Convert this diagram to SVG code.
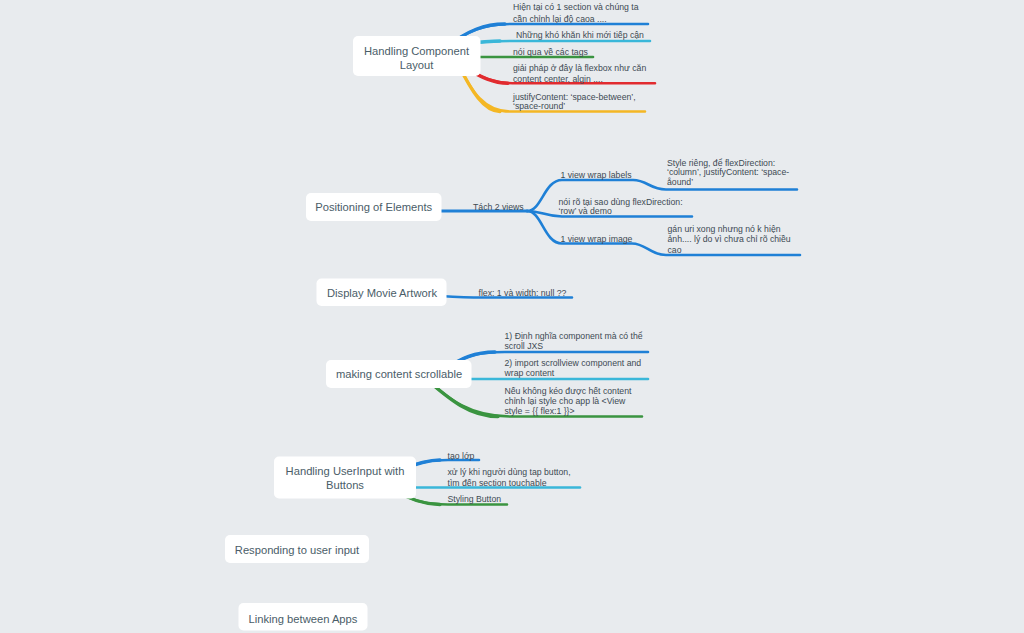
<svg xmlns="http://www.w3.org/2000/svg" width="1024" height="633" viewBox="0 0 1024 633">
<style>
.bg{fill:#e8ebee}
.box{fill:#ffffff}
.t{font-family:"Liberation Sans","Noto Sans",Arial,sans-serif;font-size:11.2px;fill:#4a5d68;text-anchor:middle}
.s{font-family:"Liberation Sans","Noto Sans",Arial,sans-serif;font-size:8.7px;fill:#3d4a53}
.c{fill:none;stroke-width:2.6;stroke-linecap:round;stroke-linejoin:round}
.k{stroke-width:3.3}
.blue{stroke:#1f80d6}
.cyan{stroke:#3ab7d9}
.green{stroke:#3a9440}
.red{stroke:#e12b2f}
.yellow{stroke:#f4b724}
</style>
<rect class="bg" x="0" y="0" width="1024" height="633"/>
<g id="connectors">
  <path class="c blue" d="M445,48 C468,30 485,24 512,24 H648"/>
  <path class="c k blue" d="M445,48 C468,30 485,24 505,24"/>
  <path class="c cyan" d="M460,44 C480,42 492,41 512,41 H650"/>
  <path class="c k cyan" d="M460,44 C480,42 492,41 500,41"/>
  <path class="c green" d="M460,57 H593"/>
  <path class="c red" d="M462,66 C482,78 494,83.3 517,83.3 H655"/>
  <path class="c k red" d="M462,66 C482,78 494,83.3 508,83.3"/>
  <path class="c yellow" d="M458,64 C472,92 484,111.5 510,111.5 H645"/>
  <path class="c k yellow" d="M458,64 C472,92 484,111.5 500,111.5"/>

  <path class="c blue" d="M430,211 H527" style="stroke-width:3.2"/>
  <path class="c blue" d="M527,211 C542,211 544,180 562,180 H633 C647,180 650,189.5 666,189.5 H797"/>
  <path class="c blue" d="M527,211 C542,211 545,216.5 562,216.5 H692"/>
  <path class="c blue" d="M527,211 C542,211 544,243.5 562,243.5 H632 C646,243.5 650,255 666,255 H800"/>

  <path class="c blue" d="M440,296 C458,297 468,297.5 482,297.5 H572"/>

  <path class="c blue" d="M445,370 C462,356 478,352 505,352 H648"/>
  <path class="c k blue" d="M445,370 C462,356 478,352 495,352"/>
  <path class="c cyan" d="M460,379 H648"/>
  <path class="c green" d="M425,378 C450,400 470,416.5 510,416.5 H642"/>
  <path class="c k green" d="M425,378 C450,400 470,416.5 498,416.5"/>

  <path class="c blue" d="M400,470 C420,462 430,460 448,460 H479"/>
  <path class="c k blue" d="M400,470 C420,462 430,460 440,460"/>
  <path class="c cyan" d="M405,487.5 H580"/>
  <path class="c green" d="M395,490 C410,500 425,504.5 448,504.5 H507"/>
  <path class="c k green" d="M395,490 C410,500 425,504.5 440,504.5"/>
</g>

<g id="node-handling-component-layout">
  <rect class="box" x="353" y="36" width="127.5" height="40" rx="5"/>
  <text class="t" x="416.5" y="55">Handling Component</text>
  <text class="t" x="416.5" y="68.5">Layout</text>
</g>
<g id="sub-hien-tai">
  <text class="s" x="513" y="10">Hiện tại có 1 section và chúng ta</text>
  <text class="s" x="513" y="21.5">cần chỉnh lại độ caoa ....</text>
</g>
<g id="sub-nhung-kho-khan">
  <text class="s" x="516" y="37.5">Những khó khăn khi mới tiếp cận</text>
</g>
<g id="sub-noi-qua">
  <text class="s" x="513" y="55">nói qua về các tags</text>
</g>
<g id="sub-giai-phap">
  <text class="s" x="513" y="70.5">giải pháp ở đây là flexbox như căn</text>
  <text class="s" x="513" y="81.5">content center, algin ....</text>
</g>
<g id="sub-justify">
  <text class="s" x="513" y="99.5">justifyContent: ‘space-between’,</text>
  <text class="s" x="513" y="109">‘space-round’</text>
</g>

<g id="node-positioning">
  <rect class="box" x="306" y="193" width="135.5" height="28" rx="5"/>
  <text class="t" x="373.7" y="211">Positioning of Elements</text>
</g>
<g id="sub-tach">
  <text class="s" x="473" y="209.5">Tách 2 views</text>
</g>
<g id="sub-wrap-labels">
  <text class="s" x="560.5" y="177.5">1 view wrap labels</text>
</g>
<g id="sub-style-rieng">
  <text class="s" x="667" y="165.5">Style riêng, để flexDirection:</text>
  <text class="s" x="667" y="175">‘column’, justifyContent: ‘space-</text>
  <text class="s" x="667" y="184.5">åound’</text>
</g>
<g id="sub-noi-ro">
  <text class="s" x="558.5" y="204.5">nói rõ tại sao dùng flexDirection:</text>
  <text class="s" x="558.5" y="213.5">‘row’ và demo</text>
</g>
<g id="sub-wrap-image">
  <text class="s" x="560.5" y="241.5">1 view wrap image</text>
</g>
<g id="sub-gan-uri">
  <text class="s" x="667.5" y="232">gán uri xong nhưng nó k hiện</text>
  <text class="s" x="667.5" y="242">ảnh.... lý do vì chưa chỉ rõ chiều</text>
  <text class="s" x="667.5" y="252.5">cao</text>
</g>

<g id="node-display-movie">
  <rect class="box" x="316.5" y="278.5" width="130" height="27.5" rx="5"/>
  <text class="t" x="382" y="297">Display Movie Artwork</text>
</g>
<g id="sub-flex">
  <text class="s" x="478.5" y="295.5">flex: 1 và width: null ??</text>
</g>

<g id="node-scrollable">
  <rect class="box" x="326" y="360" width="145.5" height="28" rx="5"/>
  <text class="t" x="399" y="378">making content scrollable</text>
</g>
<g id="sub-dinh-nghia">
  <text class="s" x="504.5" y="338.5">1) Định nghĩa component mà có thể</text>
  <text class="s" x="504.5" y="349">scroll JXS</text>
</g>
<g id="sub-import">
  <text class="s" x="504.5" y="365.5">2) import scrollview component and</text>
  <text class="s" x="504.5" y="376">wrap content</text>
</g>
<g id="sub-neu-khong">
  <text class="s" x="504.5" y="394">Nếu không kéo được hết content</text>
  <text class="s" x="504.5" y="404">chỉnh lại style cho app là &lt;View</text>
  <text class="s" x="504.5" y="414">style = {{ flex:1 }}&gt;</text>
</g>

<g id="node-userinput">
  <rect class="box" x="274" y="456.5" width="142" height="42" rx="5"/>
  <text class="t" x="345" y="474.5">Handling UserInput with</text>
  <text class="t" x="345" y="489">Buttons</text>
</g>
<g id="sub-tao-lop">
  <text class="s" x="447.5" y="458.5">tạo lớp</text>
</g>
<g id="sub-xu-ly">
  <text class="s" x="447.5" y="474.5">xử lý khi người dùng tap button,</text>
  <text class="s" x="447.5" y="485.5">tìm đến section touchable</text>
</g>
<g id="sub-styling">
  <text class="s" x="447.5" y="502">Styling Button</text>
</g>

<g id="node-responding">
  <rect class="box" x="225" y="535" width="144" height="28" rx="5"/>
  <text class="t" x="297" y="553.5">Responding to user input</text>
</g>
<g id="node-linking">
  <rect class="box" x="238.5" y="603" width="129" height="27.5" rx="5"/>
  <text class="t" x="303" y="623">Linking between Apps</text>
</g>
</svg>
